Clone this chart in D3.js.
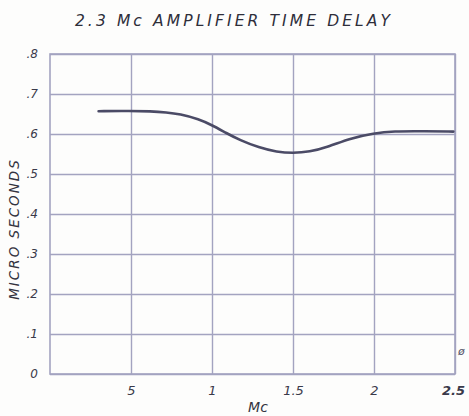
<!DOCTYPE html>
<html>
<head>
<meta charset="utf-8">
<script src="https://cdn.jsdelivr.net/npm/d3@7"></script>
<style>
  body { margin: 0; background: #fdfdfc; }
  svg { display: block; }
  .tick text { font-family: "DejaVu Sans", sans-serif; font-style: italic; fill: #3a3a4a; }
</style>
</head>
<body>
<div id="chart"></div>
<script>
// frequency in Mc and time delay in micro seconds
var freqMc = [0.30, 0.50, 0.62, 0.72, 0.80, 0.92, 1.00, 1.09, 1.17, 1.29, 1.40, 1.50, 1.60, 1.72, 1.85, 2.00, 2.12, 2.30, 2.49];
var delayUs = [0.657, 0.658, 0.657, 0.654, 0.650, 0.637, 0.622, 0.602, 0.585, 0.566, 0.555, 0.552, 0.555, 0.568, 0.589, 0.602, 0.607, 0.607, 0.606];

var xTicks = [0.5, 1, 1.5, 2, 2.5];
var xTickLabels = ["5", "1", "1.5", "2", "2.5"];
var yTicks = [0, 0.1, 0.2, 0.3, 0.4, 0.5, 0.6, 0.7, 0.8];
var yTickLabels = ["0", ".1", ".2", ".3", ".4", ".5", ".6", ".7", ".8"];

var W = 469, H = 416;
// plot box (window.top is read-only, so no "top" here)
var plotL = 50, plotR = 455, plotT = 54, plotB = 374;

var svg = d3.select("#chart").append("svg")
    .attr("width", W)
    .attr("height", H);

var x = d3.scaleLinear().domain([0, 2.5]).range([plotL, plotR]);
var y = d3.scaleLinear().domain([0, 0.8]).range([plotB, plotT]);

var gridColor = "#a3a3c0";

//vertical grid + x labels
var xAxis = svg.append("g")
    .attr("transform", "translate(0," + plotB + ")")
    .call(d3.axisBottom(x)
        .tickValues(xTicks)
        .tickSize(-(plotB - plotT))
        .tickPadding(12)
        .tickFormat(function(d, i){ return xTickLabels[i]; }));
xAxis.select(".domain").remove();
xAxis.selectAll(".tick line").attr("stroke", gridColor).attr("stroke-width", 1.4);
xAxis.selectAll(".tick text").attr("font-size", 13);
xAxis.selectAll(".tick:last-of-type text").attr("dx", -2).attr("font-weight", "bold");

//horizontal grid + y labels
var yAxis = svg.append("g")
    .attr("transform", "translate(" + plotL + ",0)")
    .call(d3.axisLeft(y)
        .tickValues(yTicks)
        .tickSize(-(plotR - plotL))
        .tickPadding(12)
        .tickFormat(function(d, i){ return yTickLabels[i]; }));
yAxis.select(".domain").remove();
yAxis.selectAll(".tick line").attr("stroke", gridColor).attr("stroke-width", 1.4);
yAxis.selectAll(".tick text").attr("font-size", 12);

// plot frame
svg.append("rect")
    .attr("x", plotL)
    .attr("y", plotT)
    .attr("width", plotR - plotL)
    .attr("height", plotB - plotT)
    .attr("fill", "none")
    .attr("stroke", gridColor)
    .attr("stroke-width", 1.6);

// the delay curve, smoothed like the hand drawn one
var line = d3.line()
    .x(function(d, i){ return x(freqMc[i]); })
    .y(function(d){ return y(d); })
    .curve(d3.curveBasis);

svg.append("path")
    .datum(delayUs)
    .attr("d", line)
    .attr("fill", "none")
    .attr("stroke", "#4b4b66")
    .attr("stroke-width", 2.6)
    .attr("stroke-linecap", "round");

// title
svg.append("text")
    .attr("x", 234)
    .attr("y", 26)
    .attr("text-anchor", "middle")
    .attr("font-family", "DejaVu Sans, sans-serif")
    .attr("font-style", "italic")
    .attr("font-size", 15.5)
    .attr("letter-spacing", 3.1)
    .attr("fill", "#2e2e3a")
    .text("2.3 Mc  AMPLIFIER  TIME  DELAY");

// axis titles
svg.append("text")
    .attr("x", 258)
    .attr("y", 412)
    .attr("text-anchor", "middle")
    .attr("font-family", "DejaVu Sans, sans-serif")
    .attr("font-style", "italic")
    .attr("font-size", 14)
    .attr("fill", "#333340")
    .text("Mc");

svg.append("text")
    .attr("transform", "translate(19,229) rotate(-90)")
    .attr("text-anchor", "middle")
    .attr("font-family", "DejaVu Sans, sans-serif")
    .attr("font-style", "italic")
    .attr("font-size", 13.5)
    .attr("letter-spacing", 2)
    .attr("fill", "#333340")
    .text("MICRO     SECONDS");

// small pencil mark by the right edge
svg.append("text")
    .attr("x", 458)
    .attr("y", 355)
    .attr("font-family", "DejaVu Sans, sans-serif")
    .attr("font-style", "italic")
    .attr("font-size", 11)
    .attr("fill", "#55556a")
    .text("ø");
</script>
</body>
</html>
